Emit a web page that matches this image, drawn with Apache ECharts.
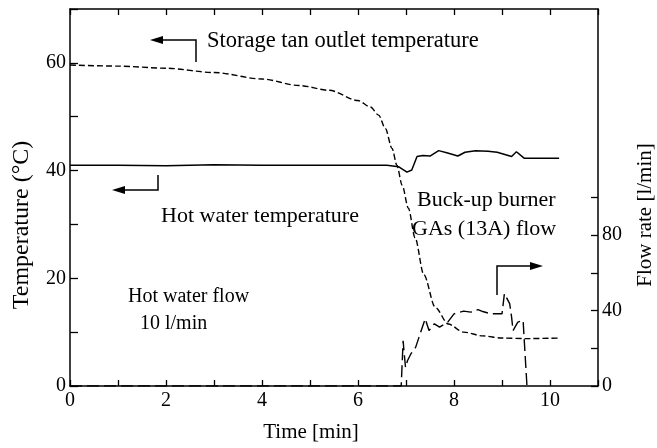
<!DOCTYPE html>
<html>
<head>
<meta charset="utf-8">
<script src="https://cdn.jsdelivr.net/npm/echarts@6/dist/echarts.min.js"></script>
<style>
  html, body { margin: 0; padding: 0; background: #fff; }
  #chart { width: 657px; height: 448px; }
</style>
</head>
<body>
<div id="chart"></div>
<script>
// storage tank outlet temperature (left axis, dashed)
var timeStorage = [0, 1, 2, 3, 4, 4.77, 5.4, 6.0, 6.26, 6.43, 6.57, 6.71, 6.81, 6.92, 7.05, 7.19, 7.37, 7.61, 7.88, 8.2, 8.6, 9.0, 9.5, 10.2];
var storageTemp = [59.6, 59.4, 59.0, 58.2, 57.0, 55.8, 54.9, 53.0, 51.8, 50.3, 47.8, 44.1, 41.0, 37.3, 33.0, 27.5, 20.7, 14.6, 11.5, 10.0, 9.3, 8.9, 8.8, 8.9];

// hot water temperature (left axis, solid)
var timeHot = [0, 1, 2, 3, 4, 5, 6, 6.6, 6.85, 7.02, 7.12, 7.23, 7.35, 7.5, 7.68, 7.85, 8.08, 8.23, 8.45, 8.71, 8.9, 9.2, 9.3, 9.46, 10.19];
var hotTemp = [41.0, 41.0, 40.9, 41.1, 41.0, 41.0, 41.0, 41.0, 40.7, 39.7, 40.1, 42.6, 42.8, 42.7, 43.7, 43.3, 42.7, 43.4, 43.7, 43.6, 43.4, 42.6, 43.5, 42.3, 42.3];

// back-up burner gas flow (right axis, long dash)
var timeFlow = [0, 6.9, 6.92, 6.94, 6.96, 6.99, 7.03, 7.1, 7.2, 7.27, 7.4, 7.48, 7.59, 7.7, 7.87, 8.0, 8.2, 8.35, 8.5, 8.6, 8.77, 9.0, 9.05, 9.09, 9.16, 9.2, 9.23, 9.27, 9.33, 9.44, 9.46, 9.52];
var flowRate = [0, 0, 1, 24, 18, 9.8, 13.4, 17, 20.5, 25.8, 35.7, 29.4, 33, 31.2, 33.9, 38.3, 39.7, 39.2, 40.5, 39.5, 38.3, 38.3, 49, 50, 43.7, 36.5, 29.4, 31.2, 33.9, 34.8, 25.8, 0];

var xLabels = [0, 2, 4, 6, 8, 10];
var leftLabels = [0, 20, 40, 60];
var rightTicks = [0, 20, 40, 60, 80, 100];
var rightLabels = [0, 40, 80];

function pairs(xs, ys) {
  return xs.map(function (x, i) { return [x, ys[i]]; });
}

var serif = '"Liberation Serif", "Times New Roman", serif';
var axisLine = { show: true, onZero: false, lineStyle: { color: '#000', width: 1.5 } };

var chart = echarts.init(document.getElementById('chart'));

function label(text, x, y, size, extra) {
  var el = {
    type: 'text', x: x, y: y,
    style: {
      text: text, fill: '#000', fontFamily: serif, fontSize: size,
      textAlign: 'left', textVerticalAlign: 'middle'
    }
  };
  if (extra) {
    for (var k in extra) el[k] = extra[k];
  }
  return el;
}
function line(points) {
  return { type: 'polyline', shape: { points: points }, style: { stroke: '#000', lineWidth: 1.5, fill: null } };
}
function head(points) {
  return { type: 'polygon', shape: { points: points }, style: { fill: '#000', stroke: null } };
}

var option = {
  animation: false,
  backgroundColor: '#fff',
  grid: { left: 70, right: 59, top: 9, bottom: 62 },
  xAxis: [
    {
      type: 'value', min: 0, max: 11, interval: 1,
      axisLine: axisLine,
      axisTick: { inside: true, length: 6, lineStyle: { color: '#000', width: 1.3 } },
      axisLabel: {
        color: '#000', fontFamily: serif, fontSize: 20, margin: 5,
        formatter: function (v) { return xLabels.indexOf(v) >= 0 ? String(v) : ''; }
      },
      splitLine: { show: false }
    },
    {
      type: 'value', position: 'top', min: 0, max: 11, interval: 1,
      axisLine: axisLine,
      axisTick: { inside: true, length: 6, lineStyle: { color: '#000', width: 1.3 } },
      axisLabel: { show: false },
      splitLine: { show: false }
    }
  ],
  yAxis: [
    {
      type: 'value', min: 0, max: 70, interval: 10,
      axisLine: axisLine,
      axisTick: { inside: true, length: 8, lineStyle: { color: '#000', width: 1.3 } },
      axisLabel: {
        color: '#000', fontFamily: serif, fontSize: 20, margin: 4,
        formatter: function (v) { return leftLabels.indexOf(v) >= 0 ? String(v) : ''; }
      },
      splitLine: { show: false }
    },
    {
      type: 'value', min: 0, max: 200, interval: 20, position: 'right',
      axisLine: axisLine,
      axisTick: { inside: true, length: 7, customValues: rightTicks, lineStyle: { color: '#000', width: 1.3 } },
      axisLabel: {
        color: '#000', fontFamily: serif, fontSize: 20, margin: 4,
        customValues: rightLabels
      },
      splitLine: { show: false }
    }
  ],
  series: [
    {
      name: 'Storage tan outlet temperature', type: 'line', yAxisIndex: 0,
      data: pairs(timeStorage, storageTemp),
      showSymbol: false, smooth: 0.3, smoothMonotone: 'x',
      lineStyle: { color: '#000', width: 1.4, type: [6, 3] }
    },
    {
      name: 'Hot water temperature', type: 'line', yAxisIndex: 0,
      data: pairs(timeHot, hotTemp),
      showSymbol: false,
      lineStyle: { color: '#000', width: 1.5, type: 'solid' }
    },
    {
      name: 'Buck-up burner GAs (13A) flow', type: 'line', yAxisIndex: 1,
      data: pairs(timeFlow, flowRate),
      showSymbol: false,
      lineStyle: { color: '#000', width: 1.4, type: [12, 5] }
    }
  ],
  graphic: [
    label('Storage tan outlet temperature', 207, 41, 22.5),
    line([[196, 62], [196, 40], [161, 40]]),
    head([[150, 40], [163, 36], [163, 44]]),
    line([[158, 175], [158, 190], [123, 190]]),
    head([[112, 190], [125, 186], [125, 194]]),
    label('Hot water temperature', 161, 216, 22),
    label('Hot water flow', 128, 297, 20),
    label('10 l/min', 140, 324, 20),
    label('Buck-up burner', 417, 200, 22),
    label('GAs (13A) flow', 412, 229, 22),
    line([[497, 295], [497, 266], [532, 266]]),
    head([[543, 266], [530, 262], [530, 270]]),
    label('Time [min]', 311, 432, 21),
    label('Temperature (°C)', 22, 225, 24, { rotation: Math.PI / 2 }),
    label('Flow rate [l/min]', 645, 215, 21, { rotation: Math.PI / 2 })
  ]
};
// centre the axis names
option.graphic[12].style.textAlign = 'center';
option.graphic[13].style.textAlign = 'center';
option.graphic[14].style.textAlign = 'center';

chart.setOption(option);
</script>
</body>
</html>
